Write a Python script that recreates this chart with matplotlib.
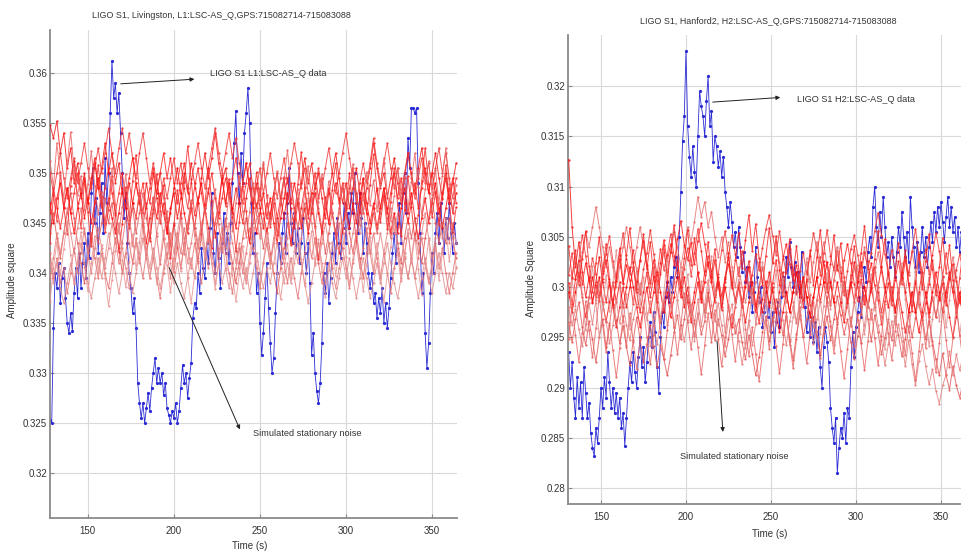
import numpy as np
import matplotlib.pyplot as plt
from matplotlib.ticker import FuncFormatter

plt.rcParams['font.family'] = ['Liberation Sans', 'DejaVu Sans']

# Amplitude arrays are stored in units of 1e-4
SCALE = 1e-4

# ---------------- Livingston (L1) ----------------
L1_TITLE = 'LIGO S1, Livingston, L1:LSC-AS_Q,GPS:715082714-715083088'
L1_DATA_START = 128          # s, one sample per second
L1_DATA = [
    3253, 3250, 3345, 3400, 3385, 3410, 3370, 3395, 3405, 3375,
    3350, 3340, 3360, 3342, 3380, 3405, 3375, 3420, 3385, 3410,
    3430, 3395, 3440, 3415, 3480, 3505, 3450, 3475, 3420, 3460,
    3490, 3440, 3515, 3470, 3500, 3560, 3612, 3575, 3590, 3560,
    3580, 3540, 3500, 3455, 3480, 3430, 3400, 3385, 3360, 3375,
    3345, 3290, 3270, 3255, 3270, 3250, 3265, 3280, 3262, 3285,
    3300, 3315, 3290, 3305, 3290, 3300, 3278, 3290, 3265, 3258,
    3250, 3262, 3255, 3270, 3250, 3262, 3285, 3308, 3290, 3300,
    3275, 3295, 3310, 3355, 3370, 3365, 3400, 3380, 3425, 3405,
    3395, 3430, 3410, 3445, 3480, 3420, 3400, 3440, 3415, 3385,
    3430, 3460, 3420, 3440, 3410, 3450, 3490, 3530, 3562, 3500,
    3470, 3520, 3490, 3540, 3560, 3585, 3550, 3470, 3420, 3440,
    3380, 3400, 3350, 3318, 3340, 3375, 3410, 3365, 3330, 3300,
    3315, 3360, 3400, 3430, 3410, 3440, 3460, 3420, 3470, 3505,
    3450, 3430, 3460, 3420, 3445, 3410, 3430, 3455, 3420, 3400,
    3430, 3390, 3318, 3340, 3300, 3282, 3270, 3290, 3330, 3400,
    3380, 3410, 3370, 3395, 3420, 3440, 3410, 3455, 3430, 3415,
    3445, 3470, 3430, 3460, 3445, 3480, 3460, 3500, 3470, 3440,
    3480, 3455, 3420, 3450, 3430, 3400, 3385, 3400, 3370, 3380,
    3355, 3375, 3360, 3385, 3350, 3370, 3345, 3365, 3395, 3420,
    3440, 3410, 3450, 3470, 3430, 3480, 3500, 3460, 3535, 3505,
    3565, 3565, 3560, 3565, 3490, 3440, 3380, 3400, 3340, 3305,
    3330, 3380, 3420, 3400, 3440, 3460, 3430, 3470, 3445, 3420,
    3455, 3435, 3470, 3440, 3420, 3450, 3430,
]

L1_NOISE_START = 128         # s, one sample every two seconds
L1_NOISE_STEP = 2
L1_NOISE_A = [
    3548, 3535, 3552, 3520, 3540, 3505, 3525, 3490, 3510, 3480,
    3500, 3470, 3495, 3515, 3485, 3505, 3530, 3500, 3520, 3490,
    3510, 3480, 3465, 3490, 3470, 3455, 3480, 3460, 3490, 3470,
    3500, 3475, 3450, 3470, 3440, 3465, 3480, 3455, 3475, 3500,
    3480, 3510, 3490, 3470, 3495, 3520, 3495, 3515, 3540, 3510,
    3490, 3505, 3480, 3460, 3485, 3470, 3450, 3475, 3495, 3470,
    3490, 3465, 3445, 3470, 3455, 3480, 3500, 3475, 3455, 3480,
    3465, 3445, 3470, 3490, 3515, 3490, 3510, 3485, 3500, 3475,
    3455, 3480, 3500, 3520, 3495, 3470, 3490, 3465, 3485, 3505,
    3480, 3460, 3485, 3505, 3530, 3505, 3485, 3500, 3475, 3495,
    3515, 3490, 3470, 3495, 3520, 3500, 3480, 3505, 3525, 3500,
    3480, 3500, 3520, 3495, 3475, 3495, 3470, 3490, 3510,
]
L1_NOISE_B = [
    3420, 3395, 3415, 3390, 3405, 3380, 3400, 3425, 3400, 3420,
    3445, 3420, 3440, 3415, 3395, 3420, 3400, 3385, 3410, 3435,
    3410, 3430, 3455, 3430, 3410, 3435, 3415, 3395, 3420, 3440,
    3415, 3395, 3375, 3400, 3420, 3395, 3415, 3440, 3420, 3445,
    3425, 3405, 3430, 3410, 3390, 3415, 3440, 3420, 3400, 3425,
    3445, 3420, 3400, 3380, 3405, 3425, 3400, 3420, 3445, 3425,
    3405, 3385, 3410, 3430, 3410, 3435, 3455, 3430, 3410, 3390,
    3415, 3395, 3375, 3400, 3420, 3440, 3415, 3435, 3410, 3390,
    3410, 3430, 3405, 3425, 3450, 3425, 3405, 3385, 3410, 3430,
    3405, 3425, 3445, 3420, 3440, 3415, 3395, 3420, 3400, 3380,
    3405, 3425, 3400, 3420, 3440, 3415, 3395, 3415, 3435, 3410,
    3390, 3410, 3430, 3405, 3425, 3400, 3380, 3400, 3420,
]
L1_NOISE_C = [
    3470, 3450, 3475, 3490, 3465, 3485, 3460, 3440, 3465, 3480,
    3455, 3475, 3450, 3470, 3495, 3470, 3450, 3475, 3455, 3440,
    3460, 3485, 3465, 3445, 3470, 3490, 3470, 3450, 3430, 3455,
    3475, 3455, 3480, 3460, 3440, 3460, 3485, 3505, 3480, 3460,
    3440, 3465, 3445, 3470, 3490, 3465, 3445, 3425, 3450, 3470,
    3495, 3470, 3490, 3465, 3445, 3470, 3490, 3510, 3485, 3465,
    3440, 3460, 3480, 3455, 3475, 3450, 3430, 3455, 3475, 3495,
    3470, 3490, 3470, 3445, 3465, 3440, 3460, 3480, 3460, 3440,
    3465, 3485, 3460, 3440, 3420, 3445, 3465, 3445, 3470, 3450,
    3475, 3495, 3470, 3450, 3470, 3445, 3465, 3485, 3465, 3440,
    3460, 3440, 3465, 3485, 3460, 3480, 3455, 3435, 3455, 3475,
    3450, 3470, 3490, 3465, 3445, 3465, 3485, 3460, 3480,
]
L1_NOISE_D = [
    3440, 3460, 3435, 3415, 3440, 3460, 3480, 3455, 3430, 3410,
    3390, 3415, 3435, 3455, 3430, 3450, 3475, 3450, 3470, 3445,
    3425, 3400, 3420, 3445, 3465, 3440, 3460, 3480, 3455, 3435,
    3460, 3480, 3500, 3475, 3455, 3430, 3450, 3425, 3405, 3430,
    3450, 3470, 3445, 3425, 3445, 3465, 3485, 3460, 3440, 3415,
    3435, 3455, 3430, 3410, 3390, 3410, 3435, 3455, 3430, 3450,
    3470, 3450, 3425, 3445, 3420, 3400, 3380, 3405, 3425, 3450,
    3430, 3455, 3475, 3450, 3470, 3445, 3465, 3490, 3465, 3445,
    3420, 3440, 3460, 3440, 3465, 3485, 3460, 3440, 3420, 3440,
    3415, 3395, 3420, 3440, 3460, 3440, 3460, 3480, 3455, 3435,
    3455, 3430, 3410, 3435, 3455, 3435, 3455, 3430, 3410, 3435,
    3455, 3475, 3450, 3430, 3450, 3430, 3455, 3435, 3415,
]
L1_NOISE_E = [
    3500, 3480, 3500, 3520, 3495, 3475, 3495, 3515, 3490, 3510,
    3530, 3505, 3485, 3505, 3525, 3500, 3520, 3545, 3520, 3500,
    3525, 3545, 3520, 3540, 3515, 3495, 3520, 3540, 3515, 3490,
    3510, 3490, 3470, 3495, 3475, 3495, 3515, 3490, 3510, 3485,
    3465, 3490, 3510, 3530, 3505, 3485, 3505, 3525, 3545, 3520,
    3500, 3520, 3540, 3515, 3535, 3510, 3490, 3510, 3485, 3465,
    3485, 3505, 3480, 3500, 3520, 3495, 3475, 3495, 3515, 3490,
    3510, 3530, 3510, 3485, 3505, 3480, 3460, 3485, 3505, 3485,
    3505, 3525, 3500, 3480, 3500, 3520, 3540, 3515, 3495, 3470,
    3490, 3510, 3490, 3510, 3535, 3510, 3490, 3510, 3530, 3505,
    3485, 3505, 3480, 3500, 3520, 3495, 3475, 3495, 3515, 3490,
    3510, 3485, 3505, 3525, 3500, 3520, 3495, 3475, 3495,
]
L1_NOISE_F = [
    3395, 3415, 3440, 3420, 3440, 3465, 3440, 3420, 3445, 3465,
    3440, 3420, 3400, 3425, 3445, 3425, 3405, 3425, 3450, 3430,
    3450, 3425, 3405, 3385, 3410, 3430, 3410, 3435, 3415, 3395,
    3415, 3440, 3460, 3435, 3415, 3440, 3420, 3440, 3460, 3435,
    3410, 3430, 3450, 3430, 3450, 3425, 3405, 3430, 3450, 3470,
    3445, 3425, 3450, 3430, 3410, 3430, 3410, 3390, 3410, 3435,
    3455, 3435, 3455, 3430, 3410, 3430, 3455, 3435, 3415, 3435,
    3455, 3430, 3410, 3435, 3455, 3475, 3450, 3430, 3410, 3430,
    3450, 3430, 3405, 3385, 3405, 3425, 3445, 3420, 3440, 3460,
    3440, 3465, 3440, 3420, 3400, 3420, 3440, 3420, 3440, 3465,
    3440, 3460, 3440, 3415, 3395, 3415, 3440, 3420, 3440, 3460,
    3435, 3415, 3435, 3455, 3435, 3455, 3430, 3450, 3430,
]
L1_NOISE_G = [
    3460, 3485, 3465, 3445, 3465, 3485, 3460, 3480, 3500, 3475,
    3495, 3470, 3490, 3510, 3485, 3465, 3485, 3505, 3480, 3460,
    3480, 3500, 3475, 3495, 3515, 3490, 3470, 3490, 3465, 3485,
    3505, 3480, 3500, 3520, 3495, 3515, 3490, 3470, 3490, 3510,
    3485, 3465, 3485, 3505, 3480, 3460, 3480, 3500, 3475, 3455,
    3475, 3495, 3475, 3495, 3515, 3490, 3470, 3490, 3510, 3485,
    3465, 3485, 3460, 3440, 3460, 3480, 3455, 3475, 3495, 3470,
    3490, 3465, 3445, 3465, 3485, 3460, 3480, 3500, 3475, 3495,
    3470, 3450, 3470, 3490, 3470, 3490, 3465, 3485, 3505, 3480,
    3460, 3480, 3460, 3440, 3465, 3485, 3465, 3485, 3460, 3480,
    3500, 3475, 3495, 3470, 3450, 3470, 3490, 3465, 3485, 3505,
    3480, 3500, 3480, 3460, 3480, 3500, 3475, 3495, 3470,
]
L1_NOISE_H = [
    3410, 3390, 3410, 3385, 3370, 3390, 3410, 3390, 3410, 3430,
    3410, 3390, 3375, 3395, 3415, 3395, 3415, 3440, 3420, 3400,
    3380, 3400, 3420, 3400, 3380, 3400, 3420, 3445, 3425, 3405,
    3425, 3405, 3385, 3405, 3430, 3410, 3390, 3410, 3390, 3375,
    3395, 3415, 3395, 3415, 3435, 3415, 3435, 3410, 3390, 3410,
    3390, 3405, 3385, 3405, 3425, 3405, 3385, 3405, 3380, 3400,
    3420, 3400, 3385, 3405, 3390, 3410, 3430, 3410, 3390, 3410,
    3390, 3410, 3430, 3410, 3390, 3370, 3390, 3410, 3430, 3410,
    3390, 3410, 3390, 3375, 3395, 3415, 3395, 3415, 3395, 3375,
    3395, 3415, 3395, 3375, 3390, 3410, 3390, 3410, 3430, 3410,
    3390, 3375, 3395, 3415, 3395, 3415, 3395, 3375, 3395, 3415,
    3395, 3380, 3400, 3420, 3400, 3380, 3400, 3385, 3405,
]
L1_NOISE_I = [
    3430, 3478, 3452, 3501, 3466, 3439, 3487, 3512, 3470, 3445,
    3493, 3461, 3427, 3472, 3508, 3476, 3441, 3463, 3497, 3458,
    3421, 3449, 3486, 3453, 3492, 3518, 3481, 3447, 3470, 3432,
    3464, 3499, 3462, 3488, 3451, 3415, 3448, 3483, 3455, 3491,
    3527, 3494, 3458, 3476, 3439, 3468, 3505, 3472, 3436, 3461,
    3498, 3467, 3494, 3456, 3422, 3451, 3487, 3462, 3430, 3466,
    3501, 3473, 3509, 3478, 3446, 3470, 3438, 3469, 3496, 3460,
    3428, 3454, 3489, 3521, 3486, 3455, 3480, 3447, 3414, 3442,
    3476, 3449, 3483, 3510, 3475, 3440, 3468, 3500, 3464, 3432,
    3461, 3494, 3459, 3488, 3519, 3483, 3451, 3477, 3444, 3471,
    3505, 3468, 3437, 3463, 3497, 3466, 3433, 3458, 3492, 3525,
    3489, 3456, 3481, 3448, 3474, 3508, 3471, 3440, 3466,
]
L1_NOISE_J = [
    3512, 3486, 3530, 3498, 3475, 3509, 3541, 3503, 3478, 3497,
    3463, 3489, 3522, 3487, 3459, 3481, 3448, 3472, 3505, 3469,
    3440, 3466, 3499, 3461, 3427, 3455, 3483, 3446, 3418, 3441,
    3476, 3437, 3409, 3434, 3462, 3428, 3401, 3426, 3455, 3419,
    3445, 3473, 3438, 3412, 3437, 3466, 3431, 3456, 3484, 3449,
    3421, 3447, 3479, 3442, 3470, 3497, 3462, 3436, 3461, 3490,
    3457, 3483, 3511, 3476, 3449, 3474, 3502, 3468, 3494, 3523,
    3487, 3459, 3484, 3453, 3480, 3507, 3472, 3445, 3471, 3499,
    3466, 3492, 3461, 3434, 3460, 3488, 3455, 3481, 3509, 3476,
    3448, 3473, 3501, 3468, 3493, 3462, 3488, 3515, 3480, 3452,
    3477, 3505, 3471, 3496, 3465, 3491, 3520, 3486, 3458, 3484,
    3512, 3478, 3503, 3470, 3497, 3525, 3489, 3462, 3488,
]
L1_NOISE_K = [
    3372, 3405, 3431, 3398, 3424, 3452, 3418, 3389, 3413, 3441,
    3406, 3382, 3410, 3437, 3401, 3428, 3395, 3367, 3393, 3422,
    3447, 3413, 3386, 3411, 3439, 3404, 3431, 3458, 3422, 3395,
    3420, 3389, 3414, 3443, 3408, 3381, 3407, 3435, 3402, 3429,
    3396, 3370, 3397, 3426, 3451, 3417, 3443, 3410, 3384, 3409,
    3437, 3403, 3431, 3398, 3372, 3399, 3427, 3393, 3419, 3446,
    3412, 3385, 3411, 3440, 3405, 3433, 3400, 3374, 3401, 3429,
    3395, 3422, 3449, 3414, 3387, 3413, 3442, 3408, 3434, 3401,
    3376, 3403, 3431, 3397, 3424, 3451, 3416, 3388, 3414, 3443,
    3409, 3382, 3408, 3436, 3403, 3430, 3397, 3371, 3398, 3426,
    3453, 3418, 3392, 3417, 3444, 3410, 3437, 3404, 3378, 3405,
    3433, 3399, 3426, 3393, 3420, 3447, 3412, 3439, 3406,
]
L1_NOISE = [L1_NOISE_A, L1_NOISE_B, L1_NOISE_C, L1_NOISE_D, L1_NOISE_E, L1_NOISE_F,
            L1_NOISE_G, L1_NOISE_H, L1_NOISE_I, L1_NOISE_J, L1_NOISE_K]

# ---------------- Hanford (H2) ----------------
H2_TITLE = 'LIGO S1, Hanford2, H2:LSC-AS_Q,GPS:715082714-715083088'
H2_DATA_START = 131
H2_DATA = [
    2935, 2900, 2925, 2890, 2870, 2910, 2880, 2905, 2870, 2920,
    2895, 2870, 2885, 2855, 2840, 2832, 2860, 2845, 2870, 2900,
    2880, 2910, 2890, 2935, 2905, 2880, 2900, 2875, 2895, 2870,
    2890, 2860, 2875, 2842, 2870, 2900, 2925, 2905, 2935, 2915,
    2900, 2930, 2950, 2920, 2940, 2905, 2925, 2950, 2965, 2940,
    2975, 2955, 2920, 2895, 2950, 2975, 2960, 2990, 3005, 2985,
    3010, 2995, 3020, 3030, 3010, 3050, 3095, 3145, 3170, 3235,
    3160, 3130, 3110, 3140, 3115, 3100, 3150, 3195, 3180, 3170,
    3150, 3185, 3210, 3160, 3175, 3125, 3150, 3140, 3120, 3135,
    3110, 3130, 3095, 3080, 3060, 3085, 3065, 3040, 3055, 3030,
    3060, 3040, 3015, 3035, 3005, 3020, 2990, 3005, 2975, 2995,
    3040, 3010, 2985, 3000, 2960, 2975, 2995, 2970, 2985, 2955,
    2975, 2940, 2965, 2985, 2960, 2990, 3010, 2995, 3030, 3010,
    3045, 3020, 3000, 3025, 2995, 3015, 2990, 3035, 3005, 2980,
    2955, 2975, 2950, 2970, 2945, 2965, 2935, 2960, 2920, 2900,
    2940, 2960, 2945, 2925, 2880, 2860, 2845, 2870, 2815, 2840,
    2860, 2850, 2875, 2845, 2880, 2870, 2920, 2955, 2930, 2960,
    2975, 2990, 2970, 3000, 3020, 3005, 3035, 3050, 3030, 3080,
    3100, 3060, 3040, 3075, 3050, 3090, 3060, 3030, 3045, 3020,
    3050, 3030, 3010, 3035, 3060, 3040, 3075, 3050, 3030, 3055,
    3025, 3090, 3060, 3040, 3020, 3045, 3015, 3035, 3060, 3030,
    3050, 3020, 3040, 3065, 3045, 3075, 3055, 3080, 3060, 3085,
    3065, 3045, 3070, 3090, 3060, 3080, 3055, 3070, 3040, 3060,
    3035, 3055, 3030, 3050,
]

H2_NOISE_START = 131
H2_NOISE_STEP = 2
H2_NOISE_A = [
    3127, 3060, 3020, 3045, 3015, 2990, 3010, 2985, 3005, 3030,
    3005, 2985, 3005, 2980, 2960, 2980, 3000, 2980, 3000, 3020,
    2995, 2975, 2995, 3015, 2990, 3010, 2985, 2965, 2985, 3005,
    2985, 3005, 3025, 3000, 2980, 3000, 2975, 2995, 3015, 2995,
    2975, 2995, 2970, 2990, 3010, 2990, 3010, 3030, 3005, 2985,
    3005, 2985, 2965, 2985, 3005, 2980, 3000, 3020, 3000, 2980,
    3000, 2975, 2995, 3015, 2995, 2975, 2995, 3015, 2990, 3010,
    2990, 2970, 2990, 3010, 3030, 3005, 2985, 3005, 2985, 2965,
    2985, 3005, 2985, 3005, 3025, 3000, 2980, 3000, 2980, 3000,
    3020, 2995, 2975, 2995, 3015, 2995, 2975, 2995, 2975, 2955,
    2975, 2995, 2975, 2995, 3015, 2990, 2970, 2990, 2970, 2990,
    3010, 2990, 2970, 2950, 2970, 2990, 2970,
]
H2_NOISE_B = [
    2990, 3010, 3030, 3010, 3035, 3055, 3040, 3060, 3080, 3060,
    3040, 3020, 3040, 3020, 3000, 3020, 3040, 3060, 3040, 3020,
    3040, 3060, 3040, 3020, 3000, 3020, 2995, 3015, 3035, 3015,
    3035, 3055, 3040, 3020, 3040, 3060, 3045, 3065, 3090, 3070,
    3085, 3060, 3075, 3050, 3030, 3050, 3025, 3045, 3020, 3000,
    3020, 3000, 2985, 3005, 2985, 3005, 3025, 3005, 2985, 3005,
    3025, 3045, 3025, 3005, 2985, 3005, 2985, 2965, 2985, 3005,
    3025, 3005, 3025, 3045, 3025, 3045, 3020, 3000, 3020, 3040,
    3020, 3000, 2980, 3000, 3020, 3000, 3020, 3040, 3015, 2995,
    3015, 3035, 3015, 2995, 3015, 2995, 2975, 2995, 3015, 2995,
    3015, 3035, 3015, 3035, 3010, 2990, 3010, 2990, 2970, 2990,
    3010, 2990, 3010, 3030, 3010, 2990, 3010,
]
H2_NOISE_C = [
    2995, 2975, 2995, 3015, 2990, 2970, 2990, 3010, 2990, 3010,
    2985, 2965, 2985, 3005, 2985, 3005, 2980, 3000, 3020, 3000,
    2980, 2960, 2980, 3000, 2975, 2995, 3015, 2995, 2975, 2995,
    2970, 2990, 3010, 2990, 3010, 2985, 2965, 2985, 3005, 2985,
    3005, 3025, 3005, 2985, 3005, 2980, 3000, 2980, 2960, 2980,
    3000, 2980, 3000, 3020, 2995, 2975, 2995, 2975, 2995, 3015,
    2995, 2975, 2955, 2975, 2995, 2975, 2995, 3015, 2990, 3010,
    2990, 2970, 2990, 3010, 2985, 3005, 3025, 3005, 2985, 3005,
    2985, 2965, 2985, 3005, 2985, 3005, 3025, 3000, 2980, 3000,
    2980, 3000, 3020, 3000, 2980, 3000, 2975, 2995, 3015, 2995,
    2975, 2995, 2975, 2955, 2975, 2995, 2975, 2995, 3015, 2995,
    2975, 2995, 3015, 2995, 2975, 2995, 2975,
]
H2_NOISE_D = [
    2965, 2945, 2968, 2985, 2960, 2942, 2966, 2948, 2925, 2950,
    2968, 2940, 2962, 2988, 2967, 2944, 2961, 2940, 2922, 2947,
    2970, 2948, 2925, 2943, 2962, 2941, 2920, 2942, 2928, 2912,
    2932, 2955, 2972, 2948, 2968, 2992, 2973, 2951, 2974, 2953,
    2966, 2990, 2972, 2947, 2968, 2952, 2931, 2948, 2973, 2954,
    2968, 2945, 2928, 2952, 2933, 2912, 2930, 2955, 2971, 2946,
    2966, 2988, 2974, 2952, 2971, 2948, 2927, 2953, 2972, 2950,
    2968, 2992, 2966, 2951, 2932, 2954, 2971, 2947, 2968, 2991,
    2972, 2953, 2968, 2945, 2928, 2951, 2973, 2992, 2968, 2946,
    2972, 2955, 2933, 2949, 2968, 2947, 2971, 2952, 2931, 2948,
    2972, 2950, 2969, 2993, 2971, 2948, 2966, 2946, 2928, 2912,
    2934, 2912, 2898, 2921, 2902, 2890, 2906,
]
H2_NOISE_E = [
    3012, 3034, 3008, 3027, 3052, 3031, 3006, 3029, 3013, 2992,
    3014, 3033, 3051, 3026, 3009, 3032, 3054, 3028, 3013, 3037,
    3016, 2993, 3018, 3034, 3057, 3033, 3012, 3038, 3017, 3032,
    3053, 3031, 3014, 2996, 3018, 3039, 3011, 3034, 3058, 3036,
    3012, 3031, 3016, 2992, 3013, 3037, 3056, 3030, 3052, 3033,
    3011, 3036, 3018, 2997, 3012, 3033, 3017, 3039, 3058, 3072,
    3051, 3032, 3056, 3031, 3014, 3038, 3012, 2993, 3016, 3034,
    3013, 3031, 3054, 3037, 3012, 3034, 3057, 3031, 3017, 3036,
    3014, 2992, 3016, 3038, 3052, 3032, 3011, 3035, 3018, 3034,
    3056, 3074, 3052, 3033, 3013, 3037, 3016, 2993, 3014, 3031,
    3012, 3036, 3058, 3031, 3014, 3038, 3013, 3032, 3054, 3036,
    3011, 3034, 3013, 2996, 3017, 3033, 3014,
]
H2_NOISE_F = [
    2980, 2962, 2978, 2958, 2941, 2963, 2984, 2963, 2987, 3003,
    2983, 2966, 2944, 2962, 2987, 2964, 2983, 2962, 2947, 2968,
    2983, 3004, 2982, 2967, 2986, 2961, 2943, 2966, 2988, 2962,
    2981, 3006, 2987, 2962, 2946, 2967, 2983, 2964, 2988, 2961,
    2983, 3007, 2982, 2966, 2984, 2962, 2941, 2968, 2983, 2962,
    2946, 2923, 2944, 2967, 2942, 2963, 2988, 2966, 2982, 3006,
    2984, 2962, 2988, 2967, 2942, 2966, 2981, 2964, 2987, 3003,
    2983, 2966, 2943, 2968, 2986, 2962, 2984, 2966, 2942, 2963,
    2988, 3004, 2982, 2961, 2984, 2967, 2944, 2962, 2986, 2968,
    2983, 2962, 2947, 2922, 2943, 2966, 2942, 2963, 2946, 2921,
    2947, 2923, 2902, 2926, 2943, 2921, 2903, 2918, 2897, 2884,
    2902, 2913, 2936, 2912, 2933, 2917, 2932,
]
H2_NOISE_G = [
    3004, 2983, 3008, 3026, 3003, 3024, 3007, 2984, 3002, 2986,
    3008, 3027, 3002, 2983, 3006, 3028, 3003, 3022, 3007, 2983,
    3006, 3027, 3046, 3022, 3004, 3027, 3003, 3024, 3047, 3026,
    3043, 3022, 3048, 3066, 3042, 3027, 3044, 3023, 3046, 3064,
    3043, 3022, 3006, 3027, 3002, 2984, 3008, 3023, 3002, 2987,
    3003, 2982, 3007, 3026, 3004, 2983, 2964, 2988, 3006, 2982,
    3004, 3027, 3002, 3028, 3043, 3023, 3007, 3022, 3003, 2987,
    3006, 2982, 2966, 2987, 3003, 3026, 3004, 2982, 3007, 3022,
    3006, 3027, 3043, 3024, 3003, 2986, 3008, 2983, 3006, 3024,
    3002, 2987, 2963, 2986, 3004, 2982, 3007, 3026, 3003, 3027,
    3004, 2982, 3006, 2983, 2967, 2984, 3003, 3027, 3002, 2987,
    3004, 2982, 3008, 3023, 3006, 2984, 3002,
]
H2_NOISE_H = [
    2962, 3008, 2981, 3024, 2993, 2957, 2989, 3021, 2984, 2950,
    2978, 3012, 2976, 3004, 3037, 2999, 2966, 2993, 2958, 2985,
    3019, 2983, 3010, 2974, 2941, 2969, 3003, 2967, 2995, 3028,
    2992, 2959, 2987, 3020, 2985, 3013, 2979, 2946, 2973, 3006,
    2970, 2998, 3031, 2995, 2962, 2990, 2955, 2983, 3016, 2980,
    3008, 2972, 2939, 2966, 3000, 2964, 2992, 3025, 2989, 2956,
    2984, 3017, 2981, 3009, 2975, 2942, 2970, 3004, 2968, 2996,
    3029, 2993, 2960, 2988, 2953, 2981, 3014, 2978, 3006, 3039,
    3002, 2969, 2997, 2961, 2989, 3022, 2986, 2953, 2980, 3013,
    2977, 3005, 2971, 2938, 2965, 2999, 2963, 2991, 3024, 2988,
    2955, 2983, 3016, 2980, 3008, 2974, 2941, 2968, 3002, 2966,
    2994, 2960, 2987, 3020, 2984, 2951, 2979,
]
H2_NOISE_I = [
    3041, 3009, 3037, 3002, 3028, 3056, 3021, 2995, 3024, 3050,
    3016, 3043, 3008, 2982, 3011, 3039, 3004, 3032, 3059, 3025,
    2998, 3026, 3053, 3018, 3045, 3011, 2985, 3013, 3042, 3007,
    3035, 3062, 3027, 3000, 3029, 3057, 3022, 3049, 3014, 2988,
    3016, 3045, 3010, 3038, 3003, 2977, 3005, 3034, 2999, 3027,
    3054, 3019, 3047, 3072, 3036, 3063, 3029, 3002, 3031, 3059,
    3024, 3051, 3017, 2991, 3019, 3048, 3013, 3041, 3006, 2980,
    3008, 3037, 3002, 3030, 3057, 3022, 2995, 3023, 3052, 3017,
    3044, 3010, 2984, 3012, 3041, 3006, 3034, 3061, 3026, 2999,
    3028, 3056, 3021, 3048, 3013, 2987, 3015, 3044, 3009, 3037,
    3002, 2976, 3004, 3033, 2998, 3026, 3053, 3018, 2992, 3020,
    3049, 3014, 3042, 3007, 2981, 3009, 3038,
]
H2_NOISE_J = [
    2948, 2981, 2952, 2925, 2954, 2986, 2957, 2930, 2959, 2991,
    2962, 2935, 2964, 2937, 2910, 2939, 2971, 2942, 2974, 2945,
    2918, 2947, 2979, 2950, 2923, 2952, 2984, 2955, 2928, 2957,
    2989, 2960, 2933, 2962, 2994, 2965, 2938, 2967, 2940, 2913,
    2942, 2974, 2945, 2977, 2948, 2921, 2950, 2982, 2953, 2926,
    2955, 2987, 2958, 2931, 2960, 2933, 2906, 2935, 2967, 2938,
    2970, 2941, 2914, 2943, 2975, 2946, 2919, 2948, 2980, 2951,
    2924, 2953, 2985, 2956, 2929, 2958, 2990, 2961, 2934, 2963,
    2936, 2909, 2938, 2970, 2941, 2973, 2944, 2917, 2946, 2978,
    2949, 2922, 2951, 2983, 2954, 2927, 2956, 2988, 2959, 2932,
    2961, 2934, 2907, 2936, 2968, 2939, 2971, 2942, 2915, 2944,
    2976, 2947, 2920, 2949, 2981, 2952, 2925,
]
H2_NOISE = [H2_NOISE_A, H2_NOISE_B, H2_NOISE_C, H2_NOISE_D, H2_NOISE_E,
            H2_NOISE_F, H2_NOISE_G, H2_NOISE_H, H2_NOISE_I, H2_NOISE_J]

DATA_COLOR = '#2b2bd6'
NOISE_COLORS = ['#f01010', '#e46a6a', '#ff0000', '#e05050', '#f03030',
                '#e47a7a', '#ff1a1a', '#e08888', '#f52020', '#e86060', '#e89090']
TEXT_COLOR = '#333333'
AXIS_COLOR = '#8a8a8a'
FS = 7.0
FS_TITLE = 6.4
FS_NOTE = 6.6


def fmt(v, _):
    return '%g' % round(v, 4)


def draw_panel(ax, data_start, data, noise_start, noise_step, noises,
               xlim, ylim, yticks):
    t = data_start + np.arange(len(data))
    ax.plot(t, np.array(data) * SCALE, '.-', color=DATA_COLOR, lw=0.6,
            ms=2.6, zorder=2)
    for i, series in enumerate(noises):
        tn = noise_start + noise_step * np.arange(len(series))
        ax.plot(tn, np.array(series) * SCALE, '.-',
                color=NOISE_COLORS[i % len(NOISE_COLORS)],
                lw=0.7, ms=1.3, alpha=0.8, zorder=3)
    ax.set_xlim(*xlim)
    ax.set_ylim(*ylim)
    ax.set_xticks([150, 200, 250, 300, 350])
    ax.set_yticks(yticks)
    ax.yaxis.set_major_formatter(FuncFormatter(fmt))
    ax.grid(True, color='#d9d9d9', lw=0.8, zorder=0)
    ax.set_axisbelow(True)
    for side in ('top', 'right'):
        ax.spines[side].set_visible(False)
    for side in ('left', 'bottom'):
        ax.spines[side].set_color(AXIS_COLOR)
        ax.spines[side].set_linewidth(1.3)
    ax.tick_params(direction='in', length=3, color=AXIS_COLOR,
                   labelsize=FS, labelcolor=TEXT_COLOR)
    ax.tick_params(axis='y', pad=2)
    ax.tick_params(axis='x', pad=6)


fig = plt.figure(figsize=(9.61, 5.56), dpi=100)
arrow = dict(arrowstyle='-|>', color='#222222', lw=0.7, mutation_scale=6)

# Livingston panel
ax1 = fig.add_axes([50 / 961, 1 - 518 / 556, 407 / 961, 488 / 556])
draw_panel(ax1, L1_DATA_START, L1_DATA, L1_NOISE_START, L1_NOISE_STEP, L1_NOISE,
           (128, 364.5), (0.3155, 0.3643), np.arange(0.32, 0.3601, 0.005))
fig.text(221 / 961, 1 - 16 / 556, L1_TITLE, ha='center', va='center',
         fontsize=FS_TITLE, color=TEXT_COLOR)
fig.text(12 / 961, 1 - 280 / 556, 'Amplitude square', rotation=90,
         ha='center', va='center', fontsize=FS, color=TEXT_COLOR)
fig.text(250 / 961, 1 - 546 / 556, 'Time (s)', ha='center', va='center',
         fontsize=FS, color=TEXT_COLOR)
ax1.annotate('', xy=(213.5, 0.3594), xytext=(167.5, 0.3589), arrowprops=arrow)
ax1.text(221, 0.3600, 'LIGO S1 L1:LSC-AS_Q data', fontsize=FS_NOTE,
         color=TEXT_COLOR, va='center', ha='left')
ax1.annotate('', xy=(239, 0.3241), xytext=(196.6, 0.3408), arrowprops=arrow)
ax1.text(246, 0.3240, 'Simulated stationary noise', fontsize=FS_NOTE,
         color=TEXT_COLOR, va='center', ha='left')

# Hanford panel (extends past the right edge of the figure)
ax2 = fig.add_axes([568 / 961, 1 - 504 / 556, 398.5 / 961, 469 / 556])
draw_panel(ax2, H2_DATA_START, H2_DATA, H2_NOISE_START, H2_NOISE_STEP, H2_NOISE,
           (130.6, 365), (0.2784, 0.3251), np.arange(0.28, 0.3201, 0.005))
fig.text(768 / 961, 1 - 22 / 556, H2_TITLE, ha='center', va='center',
         fontsize=FS_TITLE, color=TEXT_COLOR)
fig.text(531 / 961, 1 - 278 / 556, 'Amplitude Square', rotation=90,
         ha='center', va='center', fontsize=FS, color=TEXT_COLOR)
fig.text(770 / 961, 1 - 534 / 556, 'Time (s)', ha='center', va='center',
         fontsize=FS, color=TEXT_COLOR)
ax2.annotate('', xy=(257.1, 0.3189), xytext=(214.1, 0.3184), arrowprops=arrow)
ax2.text(265.3, 0.3187, 'LIGO S1 H2:LSC-AS_Q data', fontsize=FS_NOTE,
         color=TEXT_COLOR, va='center', ha='left')
ax2.annotate('', xy=(221.8, 0.2853), xytext=(218.2, 0.2949), arrowprops=arrow)
ax2.text(196.5, 0.2831, 'Simulated stationary noise', fontsize=FS_NOTE,
         color=TEXT_COLOR, va='center', ha='left')

fig.savefig('out.png', dpi=100)
